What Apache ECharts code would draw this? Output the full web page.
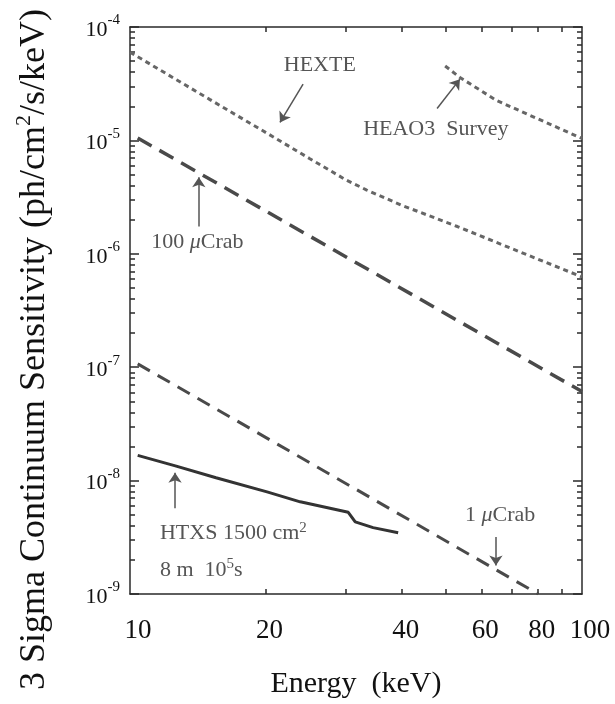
<!DOCTYPE html>
<html><head><meta charset="utf-8">
<script src="https://cdn.jsdelivr.net/npm/echarts@6/dist/echarts.min.js"></script>
<style>html,body{margin:0;padding:0;background:#fff}#c{width:615px;height:704px}</style>
</head><body><div id="c"></div>
<script>
// ---- data (energy in keV, sensitivity in ph/cm^2/s/keV) ----
const hexteE = [10, 15, 20, 25, 30, 33.4, 40, 53, 70, 100];
const hexteV = [6.0e-5, 2.3e-5, 1.17e-5, 6.9e-6, 4.5e-6, 3.65e-6, 2.67e-6, 1.74e-6, 1.11e-6, 6.25e-7];
const heao3E = [49.8, 53.7, 64.7, 100];
const heao3V = [4.53e-5, 3.59e-5, 2.25e-5, 1.04e-5];
const crab100E = [10.4, 100];
const crab100V = [1.05e-5, 6.1e-8];
const crab1E = [10.4, 80];
const crab1V = [1.07e-7, 1.0e-9];
const htxsE = [10.4, 12.6, 15.5, 20.1, 23.8, 30.4, 31.5, 34.5, 39.2];
const htxsV = [1.67e-8, 1.35e-8, 1.06e-8, 7.96e-9, 6.5e-9, 5.25e-9, 4.32e-9, 3.85e-9, 3.47e-9];
// ---- tick values ----
const xLabelValues = [10, 20, 40, 60, 80, 100];
const xTickValues = [20, 30, 40, 50, 60, 70, 80, 90];
const yMajorValues = [1e-9, 1e-8, 1e-7, 1e-6, 1e-5, 1e-4];
const yMinorValues = [
  2e-9,3e-9,4e-9,5e-9,6e-9,7e-9,8e-9,9e-9,
  2e-8,3e-8,4e-8,5e-8,6e-8,7e-8,8e-8,9e-8,
  2e-7,3e-7,4e-7,5e-7,6e-7,7e-7,8e-7,9e-7,
  2e-6,3e-6,4e-6,5e-6,6e-6,7e-6,8e-6,9e-6,
  2e-5,3e-5,4e-5,5e-5,6e-5,7e-5,8e-5,9e-5
];

const pairs = (xs, ys) => xs.map((x, i) => [x, ys[i]]);
const FONT = 'Liberation Serif';
const AX = '#2a2a2a';
const ANN = '#555';

const annRich = {
  t: {fontFamily: FONT, fontSize: 22, color: ANN, lineHeight: 24, verticalAlign: 'bottom'},
  i: {fontFamily: FONT, fontSize: 22, color: ANN, fontStyle: 'italic', lineHeight: 24, verticalAlign: 'bottom'},
  u: {fontFamily: FONT, fontSize: 15, color: ANN, verticalAlign: 'top', lineHeight: 15}
};
function arrow(a, b) { return [{coord: a}, {coord: b}]; }
function textPt(coord, name, align) {
  return {coord: coord, name: name, symbol: 'circle', symbolSize: 0,
    label: {show: true, position: 'inside', align: align || 'center', verticalAlign: 'middle'}};
}
const markLineBase = {
  silent: true, symbol: ['none', 'arrow'], symbolSize: 10,
  lineStyle: {type: 'solid', color: ANN, width: 1.5}, itemStyle: {color: ANN},
  label: {show: false}, animation: false
};
const markPointBase = {
  silent: true, animation: false,
  label: {show: true, formatter: p => p.name, rich: annRich, fontFamily: FONT, fontSize: 22, color: ANN},
  itemStyle: {color: 'transparent'}
};

function xAxisCommon(pos, withLabels) {
  return {
    type: 'log', logBase: 10, min: 10, max: 100, position: pos, gridIndex: 0,
    axisLine: {show: true, onZero: false, lineStyle: {color: AX, width: 1.5}},
    axisTick: {show: true, inside: true, length: 5, customValues: xTickValues, lineStyle: {color: AX, width: 1.5}},
    minorTick: {show: false}, splitLine: {show: false},
    axisLabel: withLabels ? {
      show: true, customValues: xLabelValues, margin: 23,
      formatter: v => { const r = Math.round(v); return (r === 10 || r === 100) ? '{e|' + r + '}' : '{m|' + r + '}'; },
      rich: {
        e: {fontFamily: FONT, fontSize: 27, color: '#111', padding: [0, 0, 0, 16]},
        m: {fontFamily: FONT, fontSize: 27, color: '#111', padding: [0, 0, 0, 7]}
      }
    } : {show: false}
  };
}
function yAxisCommon(pos, values, len, withLine, withLabels) {
  const ax = {
    type: 'log', logBase: 10, min: 1e-9, max: 1e-4, position: pos, gridIndex: 0,
    axisLine: {show: withLine, onZero: false, lineStyle: {color: AX, width: 1.5}},
    axisTick: {show: true, inside: true, length: len, customValues: values, lineStyle: {color: AX, width: 1.5}},
    minorTick: {show: false}, splitLine: {show: false},
    axisLabel: {show: false}
  };
  if (withLabels) {
    ax.axisLabel = {
      show: true, customValues: yMajorValues, margin: 10,
      formatter: v => '{b|10}{s|' + Math.round(Math.log10(v)) + '}',
      rich: {
        b: {fontFamily: FONT, fontSize: 22, color: '#111', lineHeight: 28, verticalAlign: 'bottom'},
        s: {fontFamily: FONT, fontSize: 15, color: '#111', lineHeight: 15, verticalAlign: 'top'}
      }
    };
    ax.name = '{n|3 Sigma Continuum Sensitivity (ph/cm}{s|2}{n|/s/keV)}';
    ax.nameLocation = 'middle';
    ax.nameRotate = 90;
    ax.nameGap = 77;
    ax.nameTextStyle = {
      fontFamily: FONT, color: '#111', padding: [0, 78, 0, 0],
      rich: {
        n: {fontFamily: FONT, fontSize: 36, color: '#111', lineHeight: 40, verticalAlign: 'bottom'},
        s: {fontFamily: FONT, fontSize: 22, color: '#111', lineHeight: 22, verticalAlign: 'top'}
      }
    };
  }
  return ax;
}

const xBottom = xAxisCommon('bottom', true);
xBottom.name = 'Energy  (keV)';
xBottom.nameLocation = 'middle';
xBottom.nameGap = 75;
xBottom.nameTextStyle = {fontFamily: FONT, fontSize: 30, color: '#111'};

const option = {
  animation: false,
  backgroundColor: '#fff',
  grid: {left: 130, right: 33, top: 27, bottom: 100, containLabel: false},
  xAxis: [xBottom, xAxisCommon('top', false)],
  yAxis: [
    yAxisCommon('left', yMajorValues, 9, true, true),
    yAxisCommon('left', yMinorValues, 5, false, false),
    yAxisCommon('right', yMajorValues, 9, true, false),
    yAxisCommon('right', yMinorValues, 5, false, false)
  ],
  series: [
    {
      name: 'HEXTE', type: 'line', xAxisIndex: 0, yAxisIndex: 0, data: pairs(hexteE, hexteV),
      showSymbol: false, symbol: 'none', smooth: false,
      lineStyle: {color: '#666', width: 3, type: [5, 4]},
      markLine: Object.assign({}, markLineBase, {data: [arrow([24.15, 3.14e-5], [21.47, 1.44e-5])]}),
      markPoint: Object.assign({}, markPointBase, {data: [textPt([26.3, 4.7e-5], '{t|HEXTE}')]})
    },
    {
      name: 'HEAO3 Survey', type: 'line', xAxisIndex: 0, yAxisIndex: 0, data: pairs(heao3E, heao3V),
      showSymbol: false, symbol: 'none',
      lineStyle: {color: '#666', width: 3, type: [5, 4]},
      markLine: Object.assign({}, markLineBase, {data: [arrow([47.8, 1.91e-5], [53.7, 3.47e-5])]}),
      markPoint: Object.assign({}, markPointBase, {data: [textPt([47.5, 1.28e-5], '{t|HEAO3  Survey}')]})
    },
    {
      name: '100 μCrab', type: 'line', xAxisIndex: 0, yAxisIndex: 0, data: pairs(crab100E, crab100V),
      showSymbol: false, symbol: 'none',
      lineStyle: {color: '#4a4a4a', width: 3.5, type: [16, 9]},
      markLine: Object.assign({}, markLineBase, {data: [arrow([14.2, 1.74e-6], [14.2, 4.72e-6])]}),
      markPoint: Object.assign({}, markPointBase, {data: [textPt([14.1, 1.29e-6], '{t|100 }{i|μ}{t|Crab}')]})
    },
    {
      name: '1 μCrab', type: 'line', xAxisIndex: 0, yAxisIndex: 0, data: pairs(crab1E, crab1V),
      showSymbol: false, symbol: 'none',
      lineStyle: {color: '#4a4a4a', width: 3, type: [14, 9]},
      markLine: Object.assign({}, markLineBase, {data: [arrow([64.5, 3.18e-9], [64.5, 1.78e-9])]}),
      markPoint: Object.assign({}, markPointBase, {data: [textPt([65.9, 5.03e-9], '{t|1 }{i|μ}{t|Crab}')]})
    },
    {
      name: 'HTXS', type: 'line', xAxisIndex: 0, yAxisIndex: 0, data: pairs(htxsE, htxsV),
      showSymbol: false, symbol: 'none',
      lineStyle: {color: '#333', width: 3, type: 'solid'},
      markLine: Object.assign({}, markLineBase, {data: [arrow([12.58, 5.7e-9], [12.58, 1.17e-8])]}),
      markPoint: Object.assign({}, markPointBase, {data: [
        textPt([11.65, 3.5e-9], '{t|HTXS 1500 cm}{u|2}', 'left'),
        textPt([11.65, 1.66e-9], '{t|8 m  10}{u|5}{t|s}', 'left')
      ]})
    }
  ]
};
const chart = echarts.init(document.getElementById('c'), null, {renderer: 'canvas'});
chart.setOption(option);
</script>
</body></html>
